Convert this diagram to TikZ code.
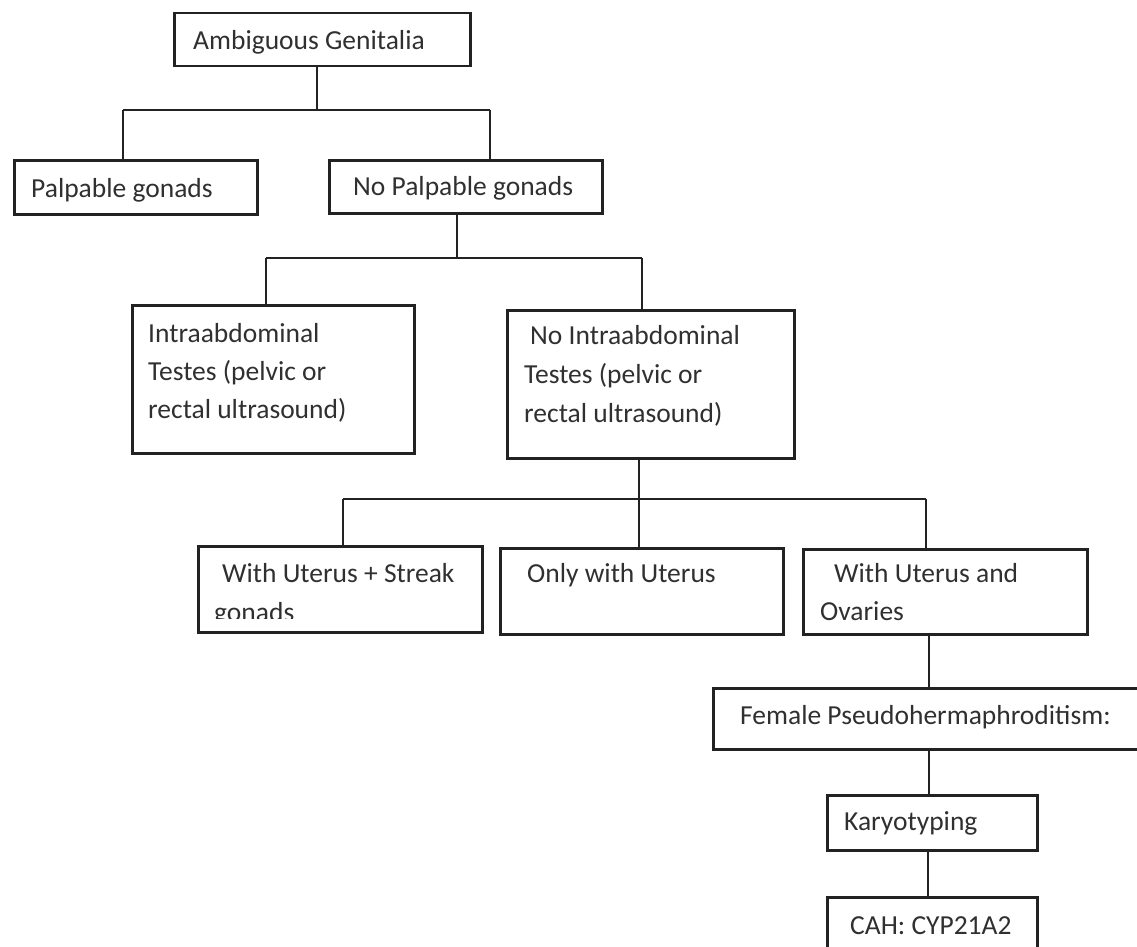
\documentclass[tikz,border=0pt]{standalone}
\usepackage{fontspec}
\setmainfont{Carlito}
\definecolor{linecol}{HTML}{222222}
\definecolor{txtcol}{HTML}{303030}
\tikzset{
  box/.style={draw=linecol, line width=2.5pt, inner sep=0pt, anchor=north west},
  lbl/.style={anchor=base west, inner sep=0pt, text=txtcol, font=\fontsize{27.5}{39}\selectfont},
  conn/.style={draw=linecol, line width=2.5pt}
}
\begin{document}
\begin{tikzpicture}[x=1pt,y=-1pt]
\useasboundingbox (0,0) rectangle (1137,947);
\clip (0,0) rectangle (1137,947);
\fill[white] (0,0) rectangle (1137,947);

% boxes
\node[box, minimum width=296pt, minimum height=53pt] (top) at (173,12) {};
\node[box, minimum width=243pt, minimum height=54pt] (pal) at (13,159) {};
\node[box, minimum width=273pt, minimum height=53pt] (nopal) at (328,159) {};
\node[box, minimum width=282pt, minimum height=148pt] (intra) at (131,304) {};
\node[box, minimum width=287pt, minimum height=148pt] (nointra) at (506,309) {};
\node[box, minimum width=284pt, minimum height=86pt] (wus) at (197,545) {};
\node[box, minimum width=283pt, minimum height=86pt] (onu) at (499,547) {};
\node[box, minimum width=284pt, minimum height=85pt] (wuo) at (802,548) {};
\node[box, minimum width=440pt, minimum height=61pt] (fem) at (712,687) {};
\node[box, minimum width=210pt, minimum height=55pt] (kar) at (826,794) {};
\node[box, minimum width=210pt, minimum height=80pt] (cah) at (826,896) {};

% texts
\node[lbl] (t-top) at (193,50) {Ambiguous Genitalia};
\node[lbl] (t-pal) at (31,197) {Palpable gonads};
\node[lbl] (t-nopal) at (353,195) {No Palpable gonads};
\node[lbl] (t-intra1) at (148,342) {Intraabdominal};
\node[lbl] (t-intra2) at (148,380) {Testes (pelvic or};
\node[lbl] (t-intra3) at (148,418) {rectal ultrasound)};
\node[lbl] (t-nointra1) at (530,344) {No Intraabdominal};
\node[lbl] (t-nointra2) at (524,383) {Testes (pelvic or};
\node[lbl] (t-nointra3) at (524,422) {rectal ultrasound)};
\node[lbl] (t-wus1) at (222,582) {With Uterus + Streak};
\begin{scope}
\clip (200,590) rectangle (478,618);
\node[lbl] (t-wus2) at (214,621) {gonads};
\end{scope}
\node[lbl] (t-onu) at (527,582) {Only with Uterus};
\node[lbl] (t-wuo1) at (834,582) {With Uterus and};
\node[lbl] (t-wuo2) at (820,620) {Ovaries};
\node[lbl] (t-fem) at (740,724) {Female Pseudohermaphroditism:};
\node[lbl] (t-kar) at (844,830) {Karyotyping};
\node[lbl] (t-cah) at (850,934) {CAH: CYP21A2};

% bus coordinates
\coordinate (b1) at (317,110);
\coordinate (b1L) at (123,110);
\coordinate (b1R) at (490,110);
\coordinate (b2) at (457,258);
\coordinate (b2L) at (266,258);
\coordinate (b2R) at (642,258);
\coordinate (b3) at (639,499);
\coordinate (b3L) at (343,499);
\coordinate (b3R) at (926,499);
\coordinate (c4) at (929,0);
\coordinate (c6) at (928,0);

% connectors
\draw[conn] (top.south -| b1) -- (b1);
\draw[conn] (b1L) -- (b1R);
\draw[conn] (b1L) -- (b1L |- pal.north);
\draw[conn] (b1R) -- (b1R |- nopal.north);

\draw[conn] (nopal.south -| b2) -- (b2);
\draw[conn] (b2L) -- (b2R);
\draw[conn] (b2L) -- (b2L |- intra.north);
\draw[conn] (b2R) -- (b2R |- nointra.north);

\draw[conn] (nointra.south -| b3) -- (b3);
\draw[conn] (b3L) -- (b3R);
\draw[conn] (b3L) -- (b3L |- wus.north);
\draw[conn] (b3) -- (b3 |- onu.north);
\draw[conn] (b3R) -- (b3R |- wuo.north);

\draw[conn] (wuo.south -| c4) -- (fem.north -| c4);
\draw[conn] (fem.south -| c4) -- (kar.north -| c4);
\draw[conn] (kar.south -| c6) -- (cah.north -| c6);
\end{tikzpicture}
\end{document}
